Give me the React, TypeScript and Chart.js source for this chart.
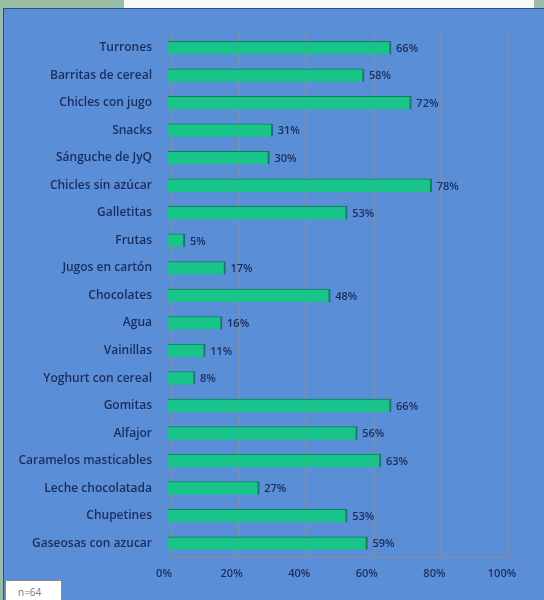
import React, { useEffect, useRef } from "react";
import { Chart, registerables } from "chart.js";

Chart.register(...registerables);

const categories = [
  "Turrones",
  "Barritas de cereal",
  "Chicles con jugo",
  "Snacks",
  "Sánguche de JyQ",
  "Chicles sin azúcar",
  "Galletitas",
  "Frutas",
  "Jugos en cartón",
  "Chocolates",
  "Agua",
  "Vainillas",
  "Yoghurt con cereal",
  "Gomitas",
  "Alfajor",
  "Caramelos masticables",
  "Leche chocolatada",
  "Chupetines",
  "Gaseosas con azucar",
];
const values = [66, 58, 72, 31, 30, 78, 53, 5, 17, 48, 16, 11, 8, 66, 56, 63, 27, 53, 59];
const xTicks = [0, 20, 40, 60, 80, 100];
const sampleNote = "n=64";

const TEXT = "#1b2d5c";
const FONT = "'Open Sans', 'DejaVu Sans', sans-serif";

const wallPlugin = {
  id: "wall",
  beforeDatasetsDraw(chart: any) {
    const { ctx, chartArea, scales } = chart;
    const xs = scales.x;
    ctx.save();
    ctx.strokeStyle = "rgba(128,142,168,0.75)";
    ctx.lineWidth = 2;
    const top = chartArea.top - 5;
    const floor = chartArea.bottom;
    xTicks.forEach((v) => {
      const x = Math.round(xs.getPixelForValue(v)) + 3;
      ctx.beginPath();
      ctx.moveTo(x, top);
      ctx.lineTo(x, floor);
      ctx.stroke();
    });
    ctx.beginPath();
    ctx.moveTo(Math.round(xs.getPixelForValue(0)) + 3, floor);
    ctx.lineTo(Math.round(xs.getPixelForValue(100)) + 3, floor);
    ctx.stroke();
    ctx.restore();
  },
};

const labelPlugin = {
  id: "valueLabels",
  afterDatasetsDraw(chart: any) {
    const { ctx } = chart;
    const meta = chart.getDatasetMeta(0);
    ctx.save();
    ctx.font = `600 11px ${FONT}`;
    ctx.fillStyle = TEXT;
    ctx.textAlign = "left";
    ctx.textBaseline = "middle";
    meta.data.forEach((bar: any, i: number) => {
      ctx.fillText(`${values[i]}%`, bar.x + 5, bar.y + 1);
    });
    ctx.restore();
  },
};

export default function App() {
  const ref = useRef<HTMLCanvasElement | null>(null);

  useEffect(() => {
    if (!ref.current) return;
    const chart = new Chart(ref.current, {
      type: "bar",
      data: {
        labels: categories,
        datasets: [
          {
            data: values,
            backgroundColor: "#18c48a",
            borderColor: "#0c7f58",
            borderWidth: { top: 1, right: 2, bottom: 0, left: 0 },
            borderSkipped: false,
            barThickness: 13,
          },
        ],
      },
      options: {
        indexAxis: "y",
        animation: false,
        responsive: false,
        maintainAspectRatio: false,
        layout: { padding: { top: 34, right: 38, left: 0, bottom: 0 } },
        plugins: {
          legend: { display: false },
          tooltip: { enabled: false },
        },
        scales: {
          x: {
            min: 0,
            max: 100,
            afterFit(scale: any) {
              scale.height = 43;
            },
            afterBuildTicks(scale: any) {
              scale.ticks = xTicks.map((v) => ({ value: v }));
            },
            grid: { display: false, drawTicks: false },
            border: { display: false },
            ticks: {
              padding: 10,
              labelOffset: -4,
              color: TEXT,
              font: { family: FONT, size: 11, weight: "600" },
              callback: (v: any) => `${v}%`,
            },
          },
          y: {
            afterFit(scale: any) {
              scale.width = 168;
            },
            grid: { display: false, drawTicks: false },
            border: { display: false },
            ticks: {
              padding: 16,
              color: TEXT,
              font: { family: FONT, size: 12, weight: "600" },
              autoSkip: false,
            },
          },
        },
      },
      plugins: [wallPlugin, labelPlugin],
    });
    return () => chart.destroy();
  }, []);

  return (
    <div
      style={{
        position: "absolute",
        left: 0,
        top: 0,
        width: 544,
        height: 600,
        background: "#97bea4",
        overflow: "hidden",
      }}
    >
      <div
        style={{
          position: "absolute",
          left: 124,
          top: 0,
          width: 410,
          height: 8,
          background: "#f8f8f8",
        }}
      />
      <div
        style={{
          position: "absolute",
          left: 3,
          top: 8,
          width: 541,
          height: 592,
          background: "#5a8ed6",
          borderTop: "1px solid #2f4f78",
          borderLeft: "1px solid #2f4f78",
          boxSizing: "border-box",
        }}
      />
      <canvas
        ref={ref}
        width={544}
        height={600}
        style={{ position: "absolute", left: 0, top: 0, width: 544, height: 600 }}
      />
      <div
        style={{
          position: "absolute",
          left: 5,
          top: 580,
          width: 57,
          height: 24,
          background: "#ffffff",
          border: "1px solid #8a8a8a",
          boxSizing: "border-box",
          color: "#7a7a7a",
          fontFamily: FONT,
          fontSize: 10,
          paddingLeft: 12,
          paddingTop: 4,
        }}
      >
        {sampleNote}
      </div>
    </div>
  );
}
